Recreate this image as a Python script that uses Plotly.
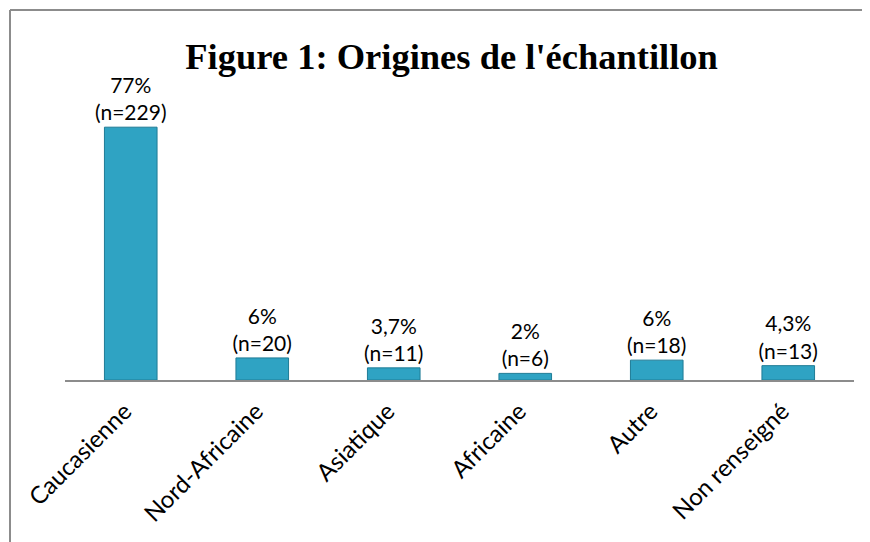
import plotly.graph_objects as go

# data
categories = ["Caucasienne", "Nord-Africaine", "Asiatique", "Africaine", "Autre", "Non renseigné"]
counts = [229, 20, 11, 6, 18, 13]
percents = ["77%", "6%", "3,7%", "2%", "6%", "4,3%"]

labels = [f"{p}<br>(n={n})" for p, n in zip(percents, counts)]

W, H = 870, 542
OFF = 8  # page body margin shifts the figure by ~8px
pw, ph = 789, 276
ml, mt = 65 - OFF, 104 - OFF
mr, mb = W - ml - pw, H - mt - ph

fig = go.Figure(go.Bar(
    x=categories,
    y=counts,
    text=labels,
    textposition="outside",
    constraintext="none",
    textfont=dict(family="Lato", size=21, color="#000000"),
    marker=dict(color="#2FA3C3", line=dict(color="#1F7C96", width=1)),
    cliponaxis=False,
))

# thin grey frame on left and top, like the source chart area
fx = (10 - OFF - ml) / pw
fy = (mt + ph - (10 - OFF)) / ph
fb = -(mb) / ph
fr = (W - ml) / pw
fig.add_shape(type="line", xref="paper", yref="paper", x0=fx, x1=fx, y0=fb, y1=fy,
              line=dict(color="#8C8C8C", width=2))
fig.add_shape(type="line", xref="paper", yref="paper", x0=fx, x1=fr, y0=fy, y1=fy,
              line=dict(color="#8C8C8C", width=2))

fig.update_layout(
    width=W, height=H,
    margin=dict(l=ml, r=mr, t=mt, b=mb, autoexpand=False),
    paper_bgcolor="white", plot_bgcolor="white",
    bargap=0.6,
    showlegend=False,
    title=dict(text="<b>Figure 1: Origines de l'échantillon</b>",
               font=dict(family="Liberation Serif", size=36.5, color="#000000"),
               x=0.49, xref="paper", xanchor="center",
               y=1 - (56 - OFF) / H, yref="container", yanchor="middle"),
    xaxis=dict(showline=True, linecolor="#8C8C8C", linewidth=1.5,
               tickangle=-45, ticks="", showgrid=False, automargin=False,
               ticklabelshift=-6, ticklabelstandoff=6,
               tickfont=dict(family="Lato", size=24, color="#000000")),
    yaxis=dict(range=[0, 250], visible=False, showgrid=False, automargin=False),
)

fig.write_html("out.html")
